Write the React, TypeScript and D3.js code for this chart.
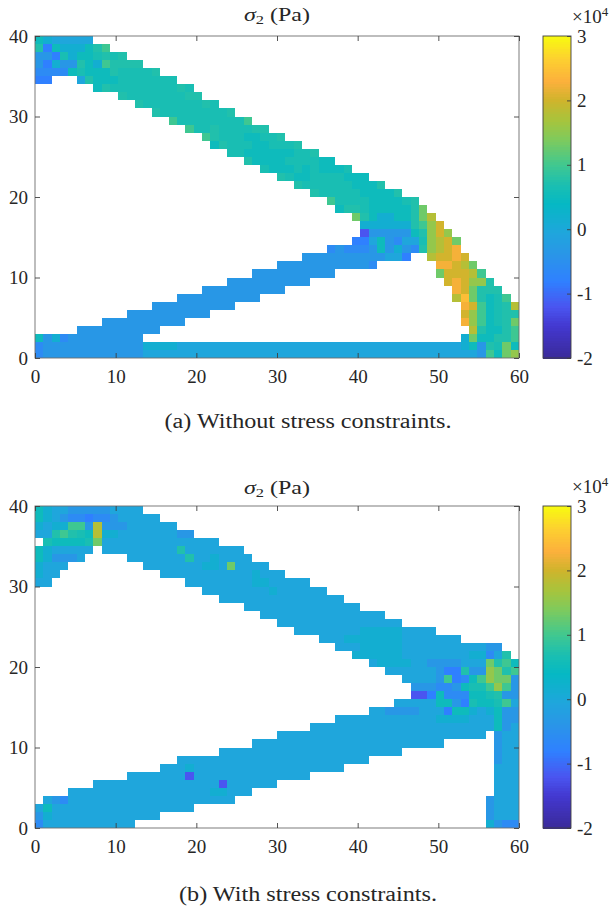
import { useEffect, useRef } from "react";
import * as d3 from "d3";

const colCount = 58;
const rowCount = 40;
const xTicks = [0, 10, 20, 30, 40, 50, 60];
const yTicks = [0, 10, 20, 30, 40];
const barTicks = [-2, -1, 0, 1, 2, 3];

// stress levels (x 10^4 Pa) used by the row strings below
const levelKeys = "ABCDEFGHIJKLMNOP";
const levelValues = [-1.2, -0.8, -0.6, -0.35, -0.05, 0.15, 0.52, 0.66, 0.74, 0.98, 1.3, 1.55, 1.8, 2.02, 2.25, 2.45];

const mapStops = [-2, -1.5, -1.2, -0.8, -0.4, -0.05, 0.4, 0.7, 1, 1.4, 1.7, 2, 2.3, 2.65, 3];
const mapColors = ["#3a2a9a", "#4338d0", "#4a55f0", "#2f80ff", "#2a95e8", "#1fa6dc", "#05b8c4", "#1cbfb0", "#40c890", "#7fca5c", "#a8c43c", "#cfb42c", "#fcb03c", "#fdd030", "#f8fa10"];

// each row, top to bottom: "startColumn:cells", a letter + number repeats that letter
const rowsWithout = [
  "0:GFE5",
  "0:IBGF3GIJ",
  "0:DDBHFGGHIHI",
  "0:DBFDDIGFJI4",
  "0:C4GHG3IH4I",
  "0:BB 5:EIG3H7",
  "7:GIH8IH",
  "10:IH7II",
  "12:IH7IH",
  "14:IH8I",
  "16:JH8J",
  "18:JH2IH4I2",
  "20:JIH3G2H2I",
  "21:GIH3G2H3I",
  "23:H2G6H2I",
  "25:IG4H4G2",
  "27:HG3HGHG3H",
  "29:IHG2H4G3",
  "31:IH6G3I",
  "33:IH4HG4I",
  "35:JH4G4HI",
  "36:GI2HG5IK",
  "38:KIGF2G2IKM",
  "39:F6IJLN",
  "39:AD5GILNL",
  "38:B2EGDCE2HLMNK",
  "35:CDC3DGDFDCILMNO",
  "32:D10E2B 47:MN2ON",
  "29:D11C 48:O2NMK",
  "26:D10 48:KN3MJ",
  "23:D10 49:NONL2I",
  "20:D10 50:ONKI3",
  "17:D10 50:MPKIGHJ",
  "14:D10 51:ONJGHIM",
  "11:D10 51:NLJGHI2",
  "8:D10 51:OLJGHIK",
  "5:D10 52:MIG2IJ",
  "0:GDFCD9 51:FKG2I2J",
  "0:CD12F4E34FGDIHKG",
  "0:CD12E40DJGKL",
];

const rowsWith = [
  "0:GFE2D5E4",
  "0:GFEDC2BC2DE5",
  "0:FEF2J2DMD3E6",
  "0:E2IJIHGMF2E7D2",
  "1:HG4HKE14",
  "0:GFE5 8:E9IE7",
  "0:GFD3E 11:E7IE2FE4",
  "0:FE3 13:E7F2EKE4",
  "0:FE2 15:E11FE3",
  "0:E2 18:E8F2E5",
  "20:E8FE6",
  "22:E15",
  "25:E14",
  "27:E15",
  "29:E15",
  "31:E8F5E4",
  "34:E3F7E7",
  "36:E3F5E10D2",
  "38:F6E7EF2CEI",
  "40:EF4E2D4E3KIJG",
  "42:E6DB2IDDLKIJ",
  "44:E4DJBCGJLK2D",
  "45:D3C2DGH2JLJD",
  "45:A2BGC3G2HID2",
  "43:E5G2DBHG2HJE",
  "40:E2D4E2EBG2FEFGD2",
  "36:E12F4E3GD2",
  "33:E22GDE",
  "29:E25 55:DE2",
  "26:E23 55:DE2",
  "22:E22 55:DE2",
  "17:E23 55:DE2",
  "15:E3FE18 55:E3",
  "11:E7AE14 55:E3",
  "7:E15AE6 55:E3",
  "4:E17F2E3 55:E3",
  "1:EDCE20 54:DE3",
  "0:EGE17 54:DE3",
  "0:DFE13 54:DE3",
  "0:CE11 54:FDC2",
];

const captionWithout = "(a) Without stress constraints.";
const captionWith = "(b) With stress constraints.";

const fontFamily = "'Liberation Serif', serif";
const axisGray = "#6e6e6e";
const textColor = "#262626";

const color = d3.scaleLinear<string>().domain(mapStops).range(mapColors).clamp(true);

function parseRows(rows: string[]) {
  const cells: { col: number; row: number; value: number }[] = [];
  rows.forEach((text, row) => {
    text.split(" ").forEach((segment) => {
      const [start, body] = segment.split(":");
      let col = +start;
      for (const m of body.matchAll(/([A-P])(\d*)/g)) {
        const count = m[2] ? +m[2] : 1;
        for (let i = 0; i < count; i++) {
          cells.push({ col: col++, row, value: levelValues[levelKeys.indexOf(m[1])] });
        }
      }
    });
  });
  return cells;
}

function Panel({ svg, rows, top, titleY, caption, captionY, captionLength }: any) {
  const left = 35;
  const right = 519;
  const bottom = top + 322;
  const barLeft = 543;
  const barRight = 571;

  const g = d3.select(svg).append("g");

  const colScale = d3.scaleBand<number>().domain(d3.range(colCount)).range([left, right]);
  const rowScale = d3.scaleBand<number>().domain(d3.range(rowCount)).range([top, bottom]);
  const xScale = d3.scaleLinear().domain([0, 60]).range([left, right]);
  const yScale = d3.scaleLinear().domain([0, 40]).range([bottom, top]);
  const barScale = d3.scaleLinear().domain([-2, 3]).range([bottom, top]);

  g.append("g")
    .attr("shape-rendering", "crispEdges")
    .selectAll("rect")
    .data(parseRows(rows))
    .join("rect")
    .attr("x", (d) => colScale(d.col)!)
    .attr("y", (d) => rowScale(d.row)!)
    .attr("width", colScale.bandwidth())
    .attr("height", rowScale.bandwidth())
    .attr("fill", (d) => color(d.value));

  // box
  g.append("rect")
    .attr("x", left)
    .attr("y", top)
    .attr("width", right - left)
    .attr("height", bottom - top)
    .attr("fill", "none")
    .attr("stroke", axisGray)
    .attr("stroke-width", 0.9);

  const styleAxis = (sel: any) => {
    sel.select(".domain").remove();
    sel.selectAll("line").attr("stroke", "#404040").attr("stroke-width", 0.9);
    sel.selectAll("text")
      .attr("font-family", fontFamily)
      .attr("font-size", 19)
      .attr("fill", textColor);
  };

  g.append("g")
    .attr("transform", `translate(0,${bottom})`)
    .call(d3.axisBottom(xScale).tickValues(xTicks).tickFormat(d3.format("d")).tickSizeInner(-5).tickPadding(11.5))
    .call(styleAxis);

  g.append("g")
    .attr("transform", `translate(0,${top})`)
    .call(d3.axisTop(xScale).tickValues(xTicks).tickFormat(() => "").tickSizeInner(-5))
    .call(styleAxis);

  g.append("g")
    .attr("transform", `translate(${left},0)`)
    .call(d3.axisLeft(yScale).tickValues(yTicks).tickFormat(d3.format("d")).tickSizeInner(-5).tickPadding(7))
    .call(styleAxis);

  g.append("g")
    .attr("transform", `translate(${right},0)`)
    .call(d3.axisRight(yScale).tickValues(yTicks).tickFormat(() => "").tickSizeInner(-5))
    .call(styleAxis);

  // title
  const title = g.append("text")
    .attr("x", (left + right) / 2)
    .attr("y", titleY)
    .attr("text-anchor", "middle")
    .attr("font-family", fontFamily)
    .attr("font-size", 19)
    .attr("textLength", 66)
    .attr("lengthAdjust", "spacingAndGlyphs")
    .attr("fill", textColor);
  title.append("tspan").attr("font-style", "italic").text("σ");
  title.append("tspan").attr("font-size", 13).attr("dy", 3).text("2");
  title.append("tspan").attr("dy", -3).text(" (Pa)");

  // colorbar
  const steps = d3.range(0, 128);
  const stepHeight = (bottom - top) / steps.length;
  g.append("g")
    .attr("shape-rendering", "crispEdges")
    .selectAll("rect")
    .data(steps)
    .join("rect")
    .attr("x", barLeft)
    .attr("y", (d) => bottom - (d + 1) * stepHeight)
    .attr("width", barRight - barLeft)
    .attr("height", stepHeight + 0.5)
    .attr("fill", (d) => color(-2 + ((d + 0.5) / steps.length) * 5));

  g.append("rect")
    .attr("x", barLeft)
    .attr("y", top)
    .attr("width", barRight - barLeft)
    .attr("height", bottom - top)
    .attr("fill", "none")
    .attr("stroke", "#404040")
    .attr("stroke-width", 0.9);

  g.append("g")
    .attr("transform", `translate(${barRight},0)`)
    .call(d3.axisRight(barScale).tickValues(barTicks).tickFormat(d3.format("d")).tickSizeInner(-4).tickPadding(6))
    .call(styleAxis)
    .selectAll("text")
    .text((d: any) => String(d));

  const factor = g.append("text")
    .attr("x", 572)
    .attr("y", top - 13)
    .attr("font-family", fontFamily)
    .attr("font-size", 19)
    .attr("fill", textColor);
  factor.append("tspan").text("×10");
  factor.append("tspan").attr("font-size", 13).attr("dy", -7).text("4");

  // caption
  g.append("text")
    .attr("x", 308)
    .attr("y", captionY)
    .attr("text-anchor", "middle")
    .attr("font-family", fontFamily)
    .attr("font-size", 20)
    .attr("textLength", captionLength)
    .attr("lengthAdjust", "spacingAndGlyphs")
    .attr("fill", textColor)
    .text(caption);
}

export default function App() {
  const ref = useRef<SVGSVGElement>(null);

  useEffect(() => {
    d3.select(ref.current).selectAll("*").remove();
    Panel({ svg: ref.current, rows: rowsWithout, top: 36, titleY: 21, caption: captionWithout, captionY: 428, captionLength: 287 });
    Panel({ svg: ref.current, rows: rowsWith, top: 506, titleY: 494, caption: captionWith, captionY: 901, captionLength: 258 });
  }, []);

  return (
    <svg
      ref={ref}
      width={614}
      height={907}
      style={{ position: "absolute", left: 0, top: 0, background: "#fff" }}
    />
  );
}
